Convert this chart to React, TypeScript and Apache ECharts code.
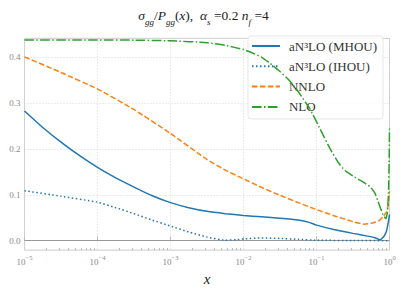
import { useEffect, useRef } from "react";
import * as echarts from "echarts";

// x positions are stored as log10(x)
const majorTickExponents = [-5, -4, -3, -2, -1, 0];
const yTickValues = [0, 0.1, 0.2, 0.3, 0.4];
const seriesNames = ["aN³LO (MHOU)", "aN³LO (IHOU)", "NNLO", "NLO"];

const mhouLog10X = [-5, -4.75, -4.5, -4.25, -4, -3.75, -3.5, -3.25, -3, -2.75, -2.5, -2.25, -2, -1.75, -1.5, -1.25, -1.1, -1, -0.75, -0.5, -0.3, -0.2, -0.13, -0.09, -0.06, -0.04, -0.02, 0];
const mhouY = [0.283, 0.247, 0.215, 0.186, 0.16, 0.137, 0.117, 0.098, 0.083, 0.072, 0.064, 0.059, 0.055, 0.052, 0.049, 0.045, 0.04, 0.034, 0.024, 0.016, 0.01, 0.0065, 0.002, 0.007, 0.014, 0.022, 0.037, 0.057];

const ihouLog10X = [-5, -4.5, -4, -3.75, -3.5, -3.25, -3, -2.75, -2.5, -2.25, -2.1, -2, -1.75, -1.5, -1.25, -1, -0.5, 0];
const ihouY = [0.109, 0.097, 0.084, 0.072, 0.059, 0.045, 0.032, 0.019, 0.008, 0.001, 0.002, 0.004, 0.006, 0.005, 0.003, 0.001, 0.0005, 0.0];

const nnloLog10X = [-5, -4.5, -4, -3.5, -3, -2.5, -2.25, -2, -1.75, -1.5, -1.25, -1, -0.75, -0.5, -0.35, -0.25, -0.15, -0.08, -0.04, -0.015, 0];
const nnloY = [0.401, 0.367, 0.331, 0.286, 0.234, 0.177, 0.154, 0.135, 0.116, 0.099, 0.083, 0.068, 0.054, 0.0415, 0.036, 0.038, 0.043, 0.054, 0.063, 0.08, 0.108];

const nloLog10X = [-5, -4, -3.5, -3, -2.5, -2.25, -2, -1.9, -1.75, -1.637, -1.5, -1.363, -1.25, -1.089, -0.952, -0.815, -0.7, -0.61, -0.5, -0.405, -0.267, -0.2, -0.158, -0.089, -0.05, -0.03, -0.015, -0.005, 0];
const nloY = [0.438, 0.438, 0.4375, 0.436, 0.432, 0.426, 0.417, 0.411, 0.4, 0.387, 0.369, 0.348, 0.325, 0.287, 0.244, 0.201, 0.17, 0.153, 0.141, 0.132, 0.118, 0.104, 0.086, 0.057, 0.048, 0.06, 0.1, 0.17, 0.247];

const colors = ["#1f77b4", "#1f77b4", "#ff7f0e", "#2ca02c"];
const dashes: any[] = ["solid", [1.5, 2.5], [5.5, 2.4], [9.6, 2.4, 1.5, 2.4]];

const SERIF = "'Liberation Serif', 'DejaVu Serif', serif";

function zip(xs: number[], ys: number[]) {
  return xs.map((x, i) => [x, ys[i]]);
}

const minorTickPositions: number[] = [];
for (let n = -5; n < 0; n++) {
  for (let k = 2; k <= 9; k++) minorTickPositions.push(n + Math.log10(k));
}

export default function App() {
  const ref = useRef<HTMLDivElement>(null);
  useEffect(() => {
    if (!ref.current) return;
    const chart = echarts.init(ref.current, null, { renderer: "svg" });
    const datasets = [
      zip(mhouLog10X, mhouY),
      zip(ihouLog10X, ihouY),
      zip(nnloLog10X, nnloY),
      zip(nloLog10X, nloY),
    ];
    const grid = { left: 24.5, right: 17.5, top: 38.3, bottom: 38.3, show: true, borderColor: "#cccccc", borderWidth: 1, backgroundColor: "#fff" };
    const option: any = {
      animation: false,
      backgroundColor: "#ffffff",
      textStyle: { fontFamily: SERIF },
      title: {
        left: "center",
        top: 3,
        text: "{i|σ}{s|gg}{r|/}{i|P}{s|gg}{r|(}{i|x}{r|),  }{i|α}{s|s}{r| =0.2 }{i|n}{s|f}{r| =4}",
        textStyle: {
          fontWeight: "normal",
          rich: {
            i: { fontFamily: SERIF, fontStyle: "italic", fontWeight: "normal", fontSize: 13.5, color: "#222", lineHeight: 18, verticalAlign: "top" },
            r: { fontFamily: SERIF, fontWeight: "normal", fontSize: 13.5, color: "#222", lineHeight: 18, verticalAlign: "top" },
            s: { fontFamily: SERIF, fontStyle: "italic", fontWeight: "normal", fontSize: 9, color: "#222", verticalAlign: "bottom", lineHeight: 18 },
          },
        },
      },
      grid,
      legend: {
        orient: "vertical",
        top: 36,
        right: 24,
        data: seriesNames,
        itemWidth: 28,
        itemHeight: 14,
        itemGap: 6.3,
        padding: [3, 6, 5, 3],
        itemStyle: { opacity: 0 },
        backgroundColor: "rgba(255,255,255,0.85)",
        borderColor: "#e6e6e6",
        borderWidth: 1,
        borderRadius: 3,
        textStyle: { fontFamily: SERIF, fontSize: 13, color: "#333", lineHeight: 14, padding: [0, 0, 0, 4] },
      },
      xAxis: [
        {
          type: "value",
          min: -5,
          max: 0,
          interval: 1,
          name: "x",
          nameLocation: "middle",
          nameGap: 20,
          nameTextStyle: { fontFamily: SERIF, fontStyle: "italic", fontSize: 15, color: "#222" },
          axisLine: { show: false },
          axisTick: { show: true, inside: true, length: 4, lineStyle: { color: "#bbb" } },
          splitLine: { show: true, lineStyle: { color: "#d8d8d8", type: [1, 2] } },
          axisLabel: {
            margin: 4,
            formatter: (v: number) => {
              const e = Math.round(v);
              return `{b|10}{s|${e === 0 ? "0" : "−" + -e}}`;
            },
            rich: {
              b: { fontFamily: SERIF, fontSize: 9, color: "#888", verticalAlign: "bottom", lineHeight: 12 },
              s: { fontFamily: SERIF, fontSize: 6.5, color: "#888", verticalAlign: "top", lineHeight: 12 },
            },
          },
        },
        {
          type: "value",
          min: -5,
          max: 0,
          position: "bottom",
          axisLine: { show: false },
          axisLabel: { show: false },
          splitLine: { show: false },
          axisTick: { show: true, inside: true, length: 2, customValues: minorTickPositions, lineStyle: { color: "#bbb" } },
        },
      ],
      yAxis: {
        type: "value",
        min: -0.0205,
        max: 0.4415,
        axisLine: { show: false },
        axisTick: { show: false, customValues: yTickValues },
        splitLine: { show: true, lineStyle: { color: "#d8d8d8", type: [1, 2] } },
        axisLabel: {
          customValues: yTickValues,
          formatter: (v: number) => v.toFixed(1),
          fontFamily: SERIF,
          fontSize: 9,
          color: "#888",
          margin: 4,
        },
      },
      series: datasets.map((d, i) => ({
        name: seriesNames[i],
        type: "line",
        data: d,
        xAxisIndex: 0,
        showSymbol: false,
        symbol: "none",
        smooth: 0.15,
        color: colors[i],
        lineStyle: { color: colors[i], width: 1.5, type: dashes[i] },
        z: 3 + i,
        ...(i === 0
          ? {
              markLine: {
                silent: true,
                symbol: "none",
                label: { show: false },
                lineStyle: { color: "#999", width: 1, type: "solid" },
                data: [{ yAxis: 0 }],
                z: 1,
              },
            }
          : {}),
      })),
    };
    chart.setOption(option);
    return () => chart.dispose();
  }, []);
  return <div ref={ref} style={{ position: "fixed", left: 0, top: 0, width: 407, height: 291 }} />;
}
